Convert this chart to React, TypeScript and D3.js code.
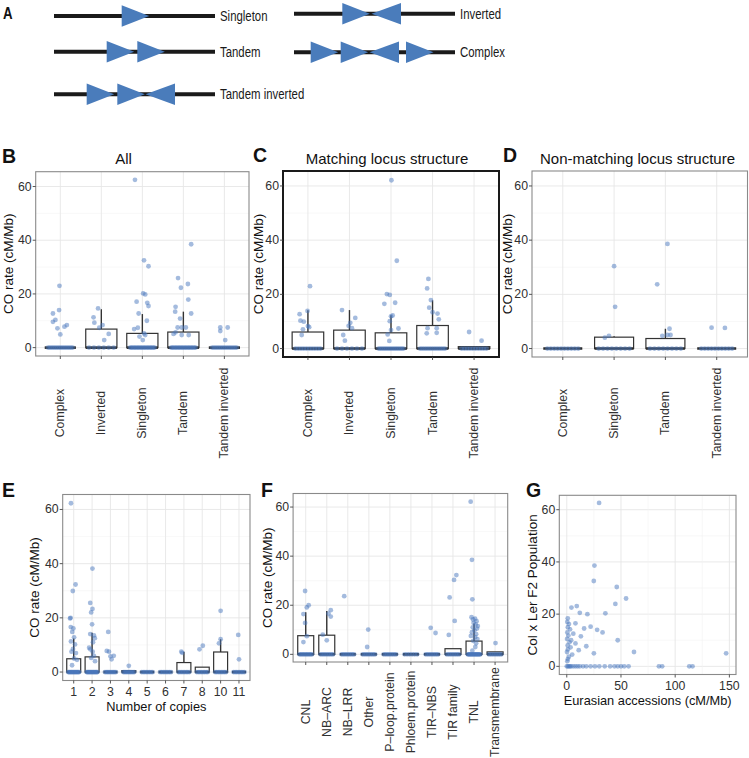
import React from "react";
import * as d3 from "d3";

// ---------------- DATA ----------------
const structureCats = ["Complex", "Inverted", "Singleton", "Tandem", "Tandem inverted"];
const nonMatchCats = ["Complex", "Singleton", "Tandem", "Tandem inverted"];
const copyCats = ["1", "2", "3", "4", "5", "6", "7", "8", "10", "11"];
const familyCats = ["CNL", "NB–ARC", "NB–LRR", "Other", "P–loop.protein", "Phloem.protein", "TIR–NBS", "TIR family", "TNL", "Transmembrane"];
const yTicks = [0, 20, 40, 60];
const yMinorTicks = [10, 30, 50];
const gXTicks = [0, 50, 100, 150];
const gXMinorTicks = [25, 75, 125];

// Panel A schematic
const diagramNames = ["Singleton", "Tandem", "Tandem inverted", "Inverted", "Complex"];
const diagramArrows = [["R"], ["R", "R"], ["R", "R", "L"], ["R", "L"], ["R", "R", "L", "R"]];

// Panel B (All): boxes (q1 = median = 0), points as [jitter offset, value]
const allQ3 = [0, 6.9, 5.3, 5.8, 0];
const allUpper = [0, 14.3, 12.5, 13.4, 0];
const allZeroCounts = [14, 6, 18, 18, 14];
const allPoints: [number, number][][] = [
  [[-0.02, 23.0], [-0.18, 12.7], [-0.03, 14.0], [-0.18, 9.6], [-0.12, 10.3], [-0.07, 7.2], [0, 4.9], [0.1, 7.8], [0.16, 8.4]],
  [[-0.08, 14.6], [-0.19, 11.3], [-0.17, 9.3], [0.03, 8.4], [-0.05, 7.4], [0.18, 5.1], [0.07, 2.8]],
  [[-0.18, 62.5], [0.04, 32.5], [0.15, 30.3], [-0.14, 17.1], [0.02, 20.2], [0.07, 19.8], [0.12, 16.7], [0.15, 15.5], [-0.09, 12.7], [0.11, 10.0], [-0.2, 6.9], [-0.11, 7.4], [-0.07, 4.1], [0.01, 2.8], [0.07, 4.7], [0.04, 5.3]],
  [[0.19, 38.5], [-0.13, 25.9], [0.11, 23.7], [-0.06, 22.3], [0.12, 17.9], [-0.19, 15.2], [0.19, 12.7], [-0.2, 13.4], [-0.08, 10.8], [-0.14, 7.5], [-0.04, 7.5], [0.06, 7.5], [-0.04, 4.7], [0.13, 4.7], [-0.19, 5.7], [-0.24, 5.1]],
  [[-0.1, 7.5], [0.08, 7.5], [-0.1, 6.2], [0.02, 2.8]],
];

// Panel C (Matching locus structure)
const matchQ3 = [6.1, 6.8, 5.8, 8.5, 0.7];
const matchUpper = [14.1, 14.2, 12.3, 17.8, 0.7];
const matchZeroCounts = [10, 6, 14, 12, 10];
const matchPoints: [number, number][][] = [
  [[0.05, 23.0], [-0.2, 12.7], [-0.18, 10.3], [-0.1, 9.9], [-0.01, 13.9], [0, 8.3], [0.03, 7.9], [-0.12, 7.1], [-0.15, 5.0]],
  [[-0.18, 14.2], [0.14, 11.3], [0.02, 9.5], [-0.02, 8.4], [0.06, 7.5], [-0.15, 5.0], [-0.11, 2.9]],
  [[0.01, 62.1], [0.14, 32.4], [-0.1, 20.1], [-0.03, 19.8], [-0.16, 16.5], [0.1, 16.9], [0, 11.9], [0.04, 12.2], [-0.03, 10.1], [0.18, 7.4], [0, 6.8], [-0.08, 5.2], [-0.04, 2.8]],
  [[-0.1, 25.7], [-0.13, 22.2], [-0.04, 17.9], [-0.08, 15.1], [0, 13.4], [0.12, 12.9], [0.15, 10.8], [-0.12, 7.5], [0.1, 7.5], [-0.14, 5.6], [0.1, 5.8]],
  [[-0.12, 6.1], [0.18, 2.9]],
];

// Panel D (Non-matching locus structure)
const nonMatchQ3 = [0, 4.2, 3.7, 0];
const nonMatchUpper = [0, 4.5, 7.3, 0];
const nonMatchZeroCounts = [10, 8, 8, 10];
const nonMatchPoints: [number, number][][] = [
  [],
  [[0, 30.4], [0.02, 15.4], [-0.18, 4.0], [-0.1, 4.7]],
  [[0.04, 38.6], [-0.16, 23.7], [0.08, 7.3], [-0.06, 4.7], [0.04, 5.0], [0.1, 5.0]],
  [[-0.1, 7.7], [0.16, 7.6]],
];

// Panel E (Number of copies)
const copyQ3 = [4.9, 5.6, 0, 0.5, 0, 0, 3.5, 1.8, 7.4, 0];
const copyUpper = [12.4, 14.5, 0, 0.5, 0, 0, 7.5, 1.8, 12.1, 0];
const copyZeroCounts = [16, 16, 10, 10, 8, 8, 8, 8, 8, 8];
const copyPoints: [number, number][][] = [
  [[-0.15, 62.3], [0.1, 32.3], [-0.05, 29.9], [-0.2, 19.8], [-0.17, 20.0], [-0.16, 16.6], [-0.02, 16.1], [-0.08, 14.8], [0.02, 12.8], [-0.15, 11.3], [0.07, 10.2], [-0.04, 8.5], [-0.12, 7.5], [0.12, 7.0], [0.02, 5.0], [0.18, 4.5], [-0.09, 2.5]],
  [[0.02, 38.2], [-0.1, 25.5], [0.02, 23.3], [-0.05, 22.0], [0, 17.6], [-0.1, 14.0], [0.1, 13.5], [0.15, 12.5], [0.05, 11.0], [-0.16, 9.0], [-0.1, 8.4], [0.03, 7.5], [0.1, 6.0], [-0.05, 5.2], [0.16, 4.0]],
  [[-0.12, 14.8], [-0.2, 7.8], [-0.08, 7.5], [0.18, 6.0], [0, 5.8], [0.06, 4.7]],
  [[0, 2.3]],
  [],
  [],
  [[-0.14, 7.5], [-0.09, 7.1]],
  [[-0.15, 8.4], [0.03, 9.7]],
  [[0, 22.6], [-0.09, 10.6], [0, 12.1]],
  [[-0.04, 13.7], [0, 4.7]],
];

// Panel F (gene family)
const familyQ3 = [7.6, 7.8, 0, 0, 0, 0, 0, 2.3, 5.4, 1.0];
const familyUpper = [17.1, 17.7, 0, 0, 0, 0, 0, 2.3, 12.6, 1.0];
const familyZeroCounts = [10, 8, 8, 8, 8, 6, 8, 8, 16, 8];
const familyPoints: [number, number][][] = [
  [[-0.03, 25.8], [0.05, 19.1], [0.14, 20.0], [-0.11, 16.4], [-0.03, 12.8], [0.05, 7.4], [-0.11, 5.0]],
  [[0.19, 18.0], [0.08, 16.6], [0.19, 15.4], [-0.19, 8.0], [0, 5.7]],
  [[-0.17, 23.7]],
  [[-0.03, 10.1], [-0.08, 3.0]],
  [],
  [],
  [[-0.06, 10.8], [0.17, 8.7]],
  [[0.05, 30.3], [0.16, 32.3], [-0.16, 23.2], [0.08, 13.6], [-0.2, 7.9]],
  [[-0.16, 62.2], [-0.1, 38.5], [-0.08, 22.4], [-0.12, 15.1], [0.05, 14.5], [-0.05, 14.2], [0.12, 13.5], [-0.02, 12.8], [0.08, 12.2], [0.18, 11.5], [-0.06, 11.0], [0.14, 10.5], [0.02, 9.8], [-0.1, 9.0], [0.1, 8.2], [-0.15, 7.5], [0.05, 7.0], [0.16, 6.2], [-0.04, 5.5], [0.1, 4.5], [0.06, 3.0], [-0.08, 1.5]],
  [[0.02, 4.6]],
];

// Panel G scatter [Eurasian accessions, Col x Ler F2]
const gPoints: [number, number][] = [
  [29.8, 62.6], [25.5, 38.6], [24.9, 32.7], [46.1, 30.4], [54.7, 26.0], [44.8, 23.9], [4.3, 22.5], [9.2, 23.1],
  [19.0, 20.0], [35.6, 20.3], [0.9, 18.4], [0.5, 17.0], [2, 16.2], [1, 15.0], [3, 14.2], [0.5, 13.0], [6, 12.5],
  [1.5, 11.8], [13, 11.5], [0.3, 10.5], [4, 10.0], [47, 10.0], [2.5, 9.2], [8, 8.8], [0.8, 8.0], [18, 7.7],
  [3.5, 7.3], [1, 6.5], [11, 6.2], [0.2, 5.5], [25, 5.0], [147, 5.0], [5, 4.5], [2, 3.7], [1, 2.8], [0.5, 2.0],
  [16, 14.5], [22, 15.2], [28, 14.0], [33, 13.0], [8, 16.5], [12, 20.5], [62, 5.5],
  [0, 0], [1, 0], [2, 0], [3, 0], [4, 0], [6, 0], [8, 0], [10, 0], [12, 0], [15, 0], [18, 0], [22, 0], [26, 0],
  [30, 0], [35, 0], [40, 0], [44, 0], [47, 0], [50, 0], [53, 0], [57, 0], [85, 0], [88, 0], [113, 0], [116, 0],
];

// ---------------- STYLE ----------------
const FONT = "'Liberation Sans', Arial, Helvetica, sans-serif";
const PT_COLOR = "#4a78bd";
const PT_OPACITY = 0.5;
const PT_R = 2.4;
const GRID_MAJOR = "#e6e6e6";
const GRID_MINOR = "#f3f3f3";
const TEXT_COLOR = "#303030";
const Y_DOMAIN: [number, number] = [-3.12, 65.52];

type BoxPanelProps = {
  left: number; right: number; top: number; bottom: number;
  cats: string[]; q3: number[]; upper: number[]; points: [number, number][][]; zeros: number[];
  labelCenterY: number; rotate: boolean; border: string; borderW: number;
  yTitle: string; yTitleX: number; xTitle?: string; xTitleY?: number;
};

function YAxis({ y, left, yTitle, yTitleX, top, bottom }: any) {
  return (
    <g>
      {yTicks.map((t) => (
        <g key={t}>
          <line x1={left - 3} x2={left} y1={y(t)} y2={y(t)} stroke="#444" strokeWidth={0.9} />
          <text x={left - 4} y={y(t)} textAnchor="end" dominantBaseline="central" fontSize={12.3} fill={TEXT_COLOR}>{t}</text>
        </g>
      ))}
      <text transform={`translate(${yTitleX},${(top + bottom) / 2}) rotate(-90)`} textAnchor="middle" dominantBaseline="central" fontSize={13.5} fill="#111">{yTitle}</text>
    </g>
  );
}

function GridY({ y, left, right }: any) {
  return (
    <g>
      {yMinorTicks.map((t) => <line key={"m" + t} x1={left} x2={right} y1={y(t)} y2={y(t)} stroke={GRID_MINOR} strokeWidth={0.6} />)}
      {yTicks.map((t) => <line key={"M" + t} x1={left} x2={right} y1={y(t)} y2={y(t)} stroke={GRID_MAJOR} strokeWidth={0.9} />)}
    </g>
  );
}

function BoxPanel(p: BoxPanelProps) {
  const x = d3.scalePoint<string>().domain(p.cats).range([p.left, p.right]).padding(0.6);
  const step = x.step();
  const y = d3.scaleLinear().domain(Y_DOMAIN).range([p.bottom, p.top]);
  const bw = step * 0.76;
  return (
    <g>
      <rect x={p.left} y={p.top} width={p.right - p.left} height={p.bottom - p.top} fill="#fff" />
      <GridY y={y} left={p.left} right={p.right} />
      {p.cats.map((c) => (
        <line key={c} x1={x(c)} x2={x(c)} y1={p.top} y2={p.bottom} stroke={GRID_MAJOR} strokeWidth={0.9} />
      ))}
      {p.cats.map((c, i) => {
        const cx = x(c) as number;
        return (
          <g key={"b" + c}>
            {p.upper[i] > p.q3[i] && (
              <line x1={cx} x2={cx} y1={y(p.q3[i])} y2={y(p.upper[i])} stroke="#333" strokeWidth={1.4} />
            )}
            <rect x={cx - bw / 2} y={y(p.q3[i])} width={bw} height={y(0) - y(p.q3[i])} fill="#fff" stroke="#333" strokeWidth={1.2} />
            <line x1={cx - bw / 2} x2={cx + bw / 2} y1={y(0)} y2={y(0)} stroke="#2a2a2a" strokeWidth={2.6} />
          </g>
        );
      })}
      {p.cats.map((c, i) => {
        const cx = x(c) as number;
        const n = p.zeros[i];
        const zeroOffsets = d3.range(n).map((k) => (n > 1 ? -0.3 + (0.6 * k) / (n - 1) : 0));
        return (
          <g key={"p" + c}>
            {zeroOffsets.map((o, k) => (
              <circle key={"z" + k} cx={cx + o * step} cy={y(0)} r={PT_R} fill={PT_COLOR} fillOpacity={PT_OPACITY} />
            ))}
            {p.points[i].map(([o, v], k) => (
              <circle key={k} cx={cx + o * step} cy={y(v)} r={PT_R} fill={PT_COLOR} fillOpacity={PT_OPACITY} />
            ))}
          </g>
        );
      })}
      <rect x={p.left} y={p.top} width={p.right - p.left} height={p.bottom - p.top} fill="none" stroke={p.border} strokeWidth={p.borderW} />
      {p.cats.map((c) => (
        <line key={"t" + c} x1={x(c)} x2={x(c)} y1={p.bottom} y2={p.bottom + 3} stroke="#444" strokeWidth={0.9} />
      ))}
      {p.cats.map((c) =>
        p.rotate ? (
          <text key={"l" + c} transform={`translate(${x(c)},${p.labelCenterY}) rotate(-90)`} textAnchor="middle" dominantBaseline="central" fontSize={12.3} fill={TEXT_COLOR}>{c}</text>
        ) : (
          <text key={"l" + c} x={x(c)} y={p.labelCenterY} textAnchor="middle" dominantBaseline="central" fontSize={12.3} fill={TEXT_COLOR}>{c}</text>
        )
      )}
      <YAxis y={y} left={p.left} yTitle={p.yTitle} yTitleX={p.yTitleX} top={p.top} bottom={p.bottom} />
      {p.xTitle && (
        <text x={(p.left + p.right) / 2} y={p.xTitleY} textAnchor="middle" dominantBaseline="central" fontSize={12.8} fill="#111">{p.xTitle}</text>
      )}
    </g>
  );
}

function ScatterPanel() {
  const left = 559.3, right = 736, top = 495.3, bottom = 674.5;
  const x = d3.scaleLinear().domain([-6.9, 156.1]).range([left, right]);
  const y = d3.scaleLinear().domain(Y_DOMAIN).range([bottom, top]);
  return (
    <g>
      <rect x={left} y={top} width={right - left} height={bottom - top} fill="#fff" />
      <GridY y={y} left={left} right={right} />
      {gXMinorTicks.map((t) => <line key={"m" + t} x1={x(t)} x2={x(t)} y1={top} y2={bottom} stroke={GRID_MINOR} strokeWidth={0.6} />)}
      {gXTicks.map((t) => <line key={"M" + t} x1={x(t)} x2={x(t)} y1={top} y2={bottom} stroke={GRID_MAJOR} strokeWidth={0.9} />)}
      {gPoints.map(([a, b], i) => (
        <circle key={i} cx={x(a)} cy={y(b)} r={PT_R} fill={PT_COLOR} fillOpacity={PT_OPACITY} />
      ))}
      <rect x={left} y={top} width={right - left} height={bottom - top} fill="none" stroke="#8a8a8a" strokeWidth={1.1} />
      {gXTicks.map((t) => (
        <g key={"t" + t}>
          <line x1={x(t)} x2={x(t)} y1={bottom} y2={bottom + 3} stroke="#444" strokeWidth={0.9} />
          <text x={x(t)} y={bottom + 11} textAnchor="middle" dominantBaseline="central" fontSize={12.3} fill={TEXT_COLOR}>{t}</text>
        </g>
      ))}
      <YAxis y={y} left={left} yTitle="Col x Ler F2 Population" yTitleX={532} top={top} bottom={bottom} />
      <text x={(left + right) / 2} y={bottom + 26} textAnchor="middle" dominantBaseline="central" fontSize={12.8} fill="#111">Eurasian accessions (cM/Mb)</text>
    </g>
  );
}

// layout for schematic diagrams: line start, line y, triangle start xs, label x
const diagramLayout: { x: number; y: number; tri: number[]; labelX: number }[] = [
  { x: 54, y: 16, tri: [121.7], labelX: 220 },
  { x: 54, y: 51.7, tri: [106.7, 137.3], labelX: 220 },
  { x: 54, y: 94.3, tri: [86.7, 117.3, 145.5], labelX: 220 },
  { x: 294, y: 13.7, tri: [342.3, 371.5], labelX: 460 },
  { x: 294, y: 52.3, tri: [310.7, 340.7, 369.5, 406], labelX: 460 },
];

function Schematic() {
  const lineLen = 161;
  const triW = 27.5;
  const triH = 21.5;
  return (
    <g>
      <text transform="translate(3,18.5) scale(0.78,1)" fontSize={17} fontWeight="bold" fill="#111">A</text>
      {diagramNames.map((name, i) => {
        const L = diagramLayout[i];
        return (
          <g key={name}>
            <line x1={L.x} x2={L.x + lineLen} y1={L.y} y2={L.y} stroke="#1a1a1a" strokeWidth={4} />
            {diagramArrows[i].map((dir, k) => {
              const x0 = L.tri[k];
              const d = dir === "R"
                ? `M${x0},${L.y - triH / 2}L${x0 + triW},${L.y}L${x0},${L.y + triH / 2}Z`
                : `M${x0 + triW + 2},${L.y - triH / 2}L${x0},${L.y}L${x0 + triW + 2},${L.y + triH / 2}Z`;
              return <path key={k} d={d} fill="#4a7cbb" />;
            })}
            <text transform={`translate(${L.labelX},${L.y}) scale(0.76,1)`} dominantBaseline="central" fontSize={15} fill="#1a1a1a">{name}</text>
          </g>
        );
      })}
    </g>
  );
}

export default function App() {
  return (
    <svg width={749} height={758} style={{ position: "absolute", left: 0, top: 0, background: "#fff" }} fontFamily={FONT}>
      <rect x={0} y={0} width={749} height={758} fill="#fff" />
      <Schematic />

      <text x={2} y={163} fontSize={19.5} fontWeight="bold" fill="#111">B</text>
      <text x={123.5} y={158} textAnchor="middle" dominantBaseline="central" fontSize={15} fill="#111">All</text>
      <BoxPanel left={35.7} right={249} top={171.7} bottom={356} cats={structureCats} q3={allQ3} upper={allUpper}
        points={allPoints} zeros={allZeroCounts} labelCenterY={413} rotate border="#8a8a8a" borderW={1.1}
        yTitle="CO rate (cM/Mb)" yTitleX={8.5} />

      <text x={253} y={162} fontSize={19.5} fontWeight="bold" fill="#111">C</text>
      <text x={387} y={158} textAnchor="middle" dominantBaseline="central" fontSize={15} fill="#111">Matching locus structure</text>
      <BoxPanel left={283} right={499} top={171} bottom={357} cats={structureCats} q3={matchQ3} upper={matchUpper}
        points={matchPoints} zeros={matchZeroCounts} labelCenterY={413} rotate border="#1a1a1a" borderW={2}
        yTitle="CO rate (cM/Mb)" yTitleX={258.5} />

      <text x={503} y={162} fontSize={19.5} fontWeight="bold" fill="#111">D</text>
      <text x={637.5} y={158} textAnchor="middle" dominantBaseline="central" fontSize={15} fill="#111">Non-matching locus structure</text>
      <BoxPanel left={532} right={747.5} top={171} bottom={357} cats={nonMatchCats} q3={nonMatchQ3} upper={nonMatchUpper}
        points={nonMatchPoints} zeros={nonMatchZeroCounts} labelCenterY={413} rotate border="#8a8a8a" borderW={1.1}
        yTitle="CO rate (cM/Mb)" yTitleX={507.5} />

      <text x={2} y={497} fontSize={19.5} fontWeight="bold" fill="#111">E</text>
      <BoxPanel left={62.7} right={250} top={494.5} bottom={680.5} cats={copyCats} q3={copyQ3} upper={copyUpper}
        points={copyPoints} zeros={copyZeroCounts} labelCenterY={691.5} rotate={false} border="#8a8a8a" borderW={1.1}
        yTitle="CO rate (cM/Mb)" yTitleX={34} xTitle="Number of copies" xTitleY={706} />

      <text x={261} y={497} fontSize={19.5} fontWeight="bold" fill="#111">F</text>
      <BoxPanel left={293.1} right={507.7} top={493.5} bottom={662} cats={familyCats} q3={familyQ3} upper={familyUpper}
        points={familyPoints} zeros={familyZeroCounts} labelCenterY={712} rotate border="#8a8a8a" borderW={1.1}
        yTitle="CO rate (cM/Mb)" yTitleX={267.5} />

      <text x={526} y={497} fontSize={19.5} fontWeight="bold" fill="#111">G</text>
      <ScatterPanel />
    </svg>
  );
}
